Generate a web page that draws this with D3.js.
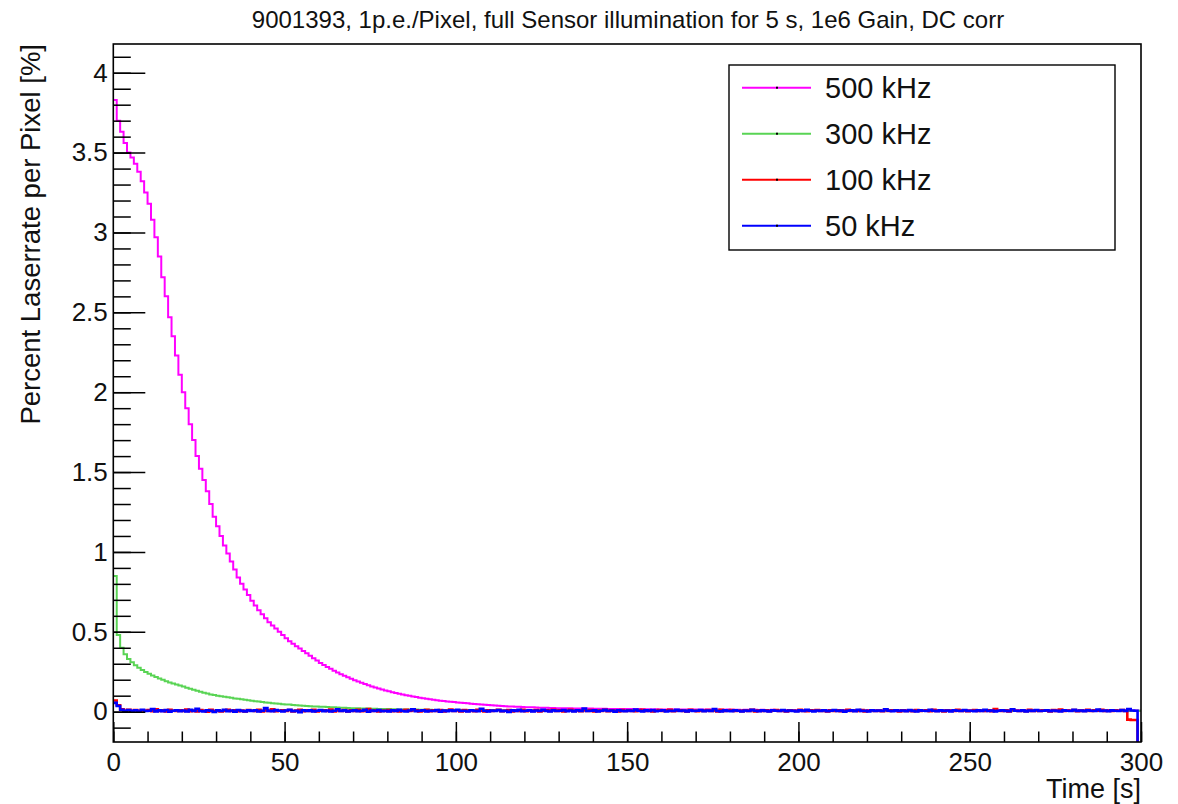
<!DOCTYPE html>
<html>
<head>
<meta charset="utf-8">
<script src="https://cdn.jsdelivr.net/npm/d3@7"></script>
<style>
  html, body { margin: 0; padding: 0; background: #fff; }
  svg { display: block; font-family: "Liberation Sans", Arial, Helvetica, sans-serif; }
</style>
</head>
<body>
<div id="chart"></div>
<script>
// ── Data (1 s bins, t = 0 … 300 s) ───────────────────────────────────────────
const BIN_WIDTH = 1;
const X_DOMAIN = [0, 300];
const Y_DOMAIN = [-0.19, 4.18];
const X_TICKS = [0, 50, 100, 150, 200, 250, 300];
const Y_TICKS = [0, 0.5, 1, 1.5, 2, 2.5, 3, 3.5, 4];
const TITLE = '9001393, 1p.e./Pixel, full Sensor illumination for 5 s, 1e6 Gain, DC corr';
const X_TITLE = 'Time [s]';
const Y_TITLE = 'Percent Laserrate per Pixel [%]';

const LABELS = ['500 kHz', '300 kHz', '100 kHz', '50 kHz'];
const COLORS = ['#ff00ff', '#59d454', '#ff0000', '#0000ff'];

const rate500 = [
  3.83,3.70,3.63,3.56,3.50,3.47,3.43,3.38,3.32,3.25,
  3.18,3.08,2.97,2.85,2.72,2.60,2.47,2.35,2.23,2.11,
  2.00,1.90,1.80,1.70,1.60,1.52,1.45,1.38,1.30,1.22,
  1.16,1.10,1.04,0.99,0.94,0.89,0.84,0.80,0.765,0.73,
  0.695,0.665,0.635,0.61,0.585,0.56,0.54,0.52,0.50,0.48,
  0.46,0.44,0.425,0.41,0.395,0.38,0.365,0.35,0.335,0.32,
  0.305,0.292,0.28,0.268,0.256,0.245,0.234,0.224,0.215,0.206,
  0.197,0.189,0.181,0.173,0.165,0.158,0.151,0.145,0.139,0.133,
  0.127,0.122,0.117,0.112,0.107,0.103,0.099,0.095,0.091,0.087,
  0.084,0.081,0.078,0.075,0.072,0.069,0.066,0.064,0.062,0.060,
  0.058,0.056,0.054,0.052,0.050,0.048,0.046,0.044,0.043,0.041,
  0.040,0.038,0.037,0.035,0.034,0.033,0.032,0.031,0.030,0.029,
  0.028,0.027,0.027,0.026,0.025,0.025,0.024,0.023,0.023,0.022,
  0.022,0.021,0.021,0.021,0.020,0.020,0.020,0.019,0.019,0.019,
  0.018,0.018,0.018,0.018,0.017,0.017,0.017,0.017,0.016,0.016,
  0.016,0.016,0.015,0.016,0.015,0.015,0.015,0.014,0.015,0.014,
  0.014,0.014,0.015,0.014,0.013,0.014,0.013,0.014,0.013,0.013,
  0.013,0.013,0.012,0.013,0.013,0.012,0.013,0.012,0.012,0.013,
  0.012,0.012,0.012,0.011,0.012,0.012,0.011,0.012,0.011,0.012,
  0.011,0.011,0.012,0.011,0.011,0.011,0.010,0.011,0.011,0.011,
  0.011,0.010,0.011,0.010,0.011,0.010,0.010,0.011,0.010,0.010,
  0.010,0.011,0.010,0.010,0.010,0.009,0.010,0.010,0.010,0.009,
  0.010,0.009,0.010,0.010,0.009,0.010,0.009,0.009,0.010,0.009,
  0.009,0.009,0.010,0.009,0.009,0.009,0.008,0.009,0.009,0.009,
  0.009,0.008,0.009,0.009,0.008,0.009,0.008,0.009,0.008,0.008,
  0.008,0.009,0.008,0.008,0.008,0.008,0.009,0.008,0.008,0.008,
  0.008,0.008,0.007,0.008,0.008,0.008,0.007,0.008,0.008,0.007,
  0.008,0.007,0.008,0.007,0.007,0.008,0.007,0.007,0.008,0.007,
  0.007,0.007,0.007,0.008,0.007,0.007,0.007,0.006,0.007,0.007,
  0.007,0.007,0.006,0.007,0.007,0.006,0.007,0.006,0.007,0.006
];

const rate300 = [
  0.85,0.48,0.40,0.36,0.33,0.31,0.29,0.275,0.26,0.248,
  0.237,0.227,0.217,0.208,0.199,0.191,0.183,0.176,0.170,0.163,
  0.157,0.150,0.144,0.137,0.131,0.125,0.119,0.114,0.108,0.104,
  0.100,0.096,0.093,0.090,0.087,0.083,0.080,0.077,0.074,0.071,
  0.068,0.065,0.063,0.060,0.058,0.056,0.053,0.051,0.049,0.047,
  0.045,0.044,0.042,0.040,0.039,0.037,0.036,0.034,0.033,0.032,
  0.031,0.030,0.029,0.028,0.027,0.026,0.025,0.024,0.023,0.022,
  0.022,0.021,0.020,0.020,0.019,0.018,0.018,0.017,0.017,0.016,
  0.016,0.015,0.015,0.014,0.014,0.014,0.013,0.013,0.013,0.012,
  0.012,0.012,0.012,0.011,0.011,0.011,0.011,0.010,0.010,0.010,
  0.010,0.010,0.010,0.009,0.010,0.009,0.009,0.010,0.009,0.009,
  0.009,0.009,0.009,0.009,0.008,0.009,0.009,0.008,0.009,0.008,
  0.008,0.009,0.008,0.008,0.008,0.008,0.008,0.009,0.008,0.008,
  0.008,0.008,0.007,0.008,0.008,0.008,0.007,0.008,0.008,0.007,
  0.008,0.007,0.007,0.008,0.007,0.007,0.008,0.007,0.007,0.007,
  0.007,0.008,0.007,0.007,0.007,0.006,0.007,0.007,0.007,0.007,
  0.007,0.006,0.007,0.007,0.006,0.007,0.007,0.006,0.007,0.006,
  0.007,0.006,0.006,0.007,0.006,0.006,0.007,0.006,0.006,0.006,
  0.006,0.007,0.006,0.006,0.006,0.006,0.005,0.006,0.006,0.006,
  0.006,0.006,0.005,0.006,0.006,0.005,0.006,0.006,0.005,0.006,
  0.005,0.006,0.006,0.005,0.006,0.005,0.006,0.005,0.005,0.006,
  0.005,0.005,0.006,0.005,0.005,0.005,0.006,0.005,0.005,0.005,
  0.005,0.005,0.005,0.006,0.005,0.005,0.004,0.005,0.005,0.005,
  0.005,0.004,0.005,0.005,0.005,0.004,0.005,0.005,0.004,0.005,
  0.005,0.004,0.005,0.004,0.005,0.005,0.004,0.005,0.004,0.004,
  0.005,0.004,0.004,0.005,0.004,0.004,0.005,0.004,0.004,0.004,
  0.004,0.005,0.004,0.004,0.004,0.004,0.005,0.004,0.004,0.004,
  0.004,0.004,0.004,0.005,0.004,0.004,0.004,0.004,0.004,0.004,
  0.004,0.004,0.004,0.004,0.004,0.005,0.004,0.004,0.004,0.004,
  0.004,0.004,0.004,0.004,0.004,0.004,0.004,0.004,0.004,0.006
];

const rate100 = [
  0.070,0.040,0.015,0.006,0.012,0.004,0.010,0.002,0.008,0.006,
  0.010,0.003,0.014,0.005,0.008,0.001,0.012,0.006,0.004,0.009,
  0.005,0.013,0.003,0.007,0.002,0.010,0.006,0.000,0.011,0.004,
  0.008,0.002,0.006,0.012,0.004,0.009,0.003,0.007,0.001,0.010,
  0.006,0.004,0.011,0.002,0.008,0.005,0.014,0.003,0.006,0.009,
  0.004,0.010,0.001,0.007,0.012,0.003,0.008,0.005,0.011,0.002,
  0.006,0.009,0.004,0.013,0.002,0.007,0.005,0.010,0.001,0.008,
  0.005,0.011,0.003,0.006,0.016,0.004,0.009,0.002,0.007,0.005,
  0.010,0.003,0.008,0.001,0.006,0.012,0.004,0.007,0.009,0.002,
  0.006,0.011,0.003,0.008,0.005,0.010,0.002,0.006,0.013,0.004,
  0.007,0.001,0.010,0.005,0.008,0.003,0.011,0.006,0.002,0.009,
  0.004,0.007,0.012,0.003,0.006,0.010,0.001,0.008,0.005,0.011,
  0.003,0.007,0.004,0.010,0.002,0.006,0.009,0.004,0.012,0.005,
  0.008,0.002,0.006,0.011,0.004,0.007,0.003,0.009,0.005,0.010,
  0.002,0.007,0.005,0.012,0.003,0.008,0.006,0.001,0.010,0.004,
  0.009,0.005,0.003,0.007,0.011,0.004,0.008,0.002,0.006,0.010,
  0.004,0.008,0.012,0.003,0.006,0.009,0.005,0.002,0.011,0.006,
  0.003,0.008,0.005,0.010,0.004,0.007,0.002,0.012,0.005,0.007,
  0.010,0.004,0.006,0.003,0.009,0.005,0.011,0.002,0.007,0.005,
  0.008,0.003,0.006,0.010,0.004,0.007,0.002,0.009,0.006,0.004,
  0.011,0.005,0.003,0.008,0.006,0.010,0.004,0.007,0.002,0.009,
  0.005,0.008,0.003,0.006,0.012,0.004,0.007,0.005,0.010,0.002,
  0.006,0.009,0.004,0.007,0.003,0.011,0.005,0.008,0.006,0.002,
  0.009,0.005,0.007,0.003,0.010,0.004,0.006,0.008,0.003,0.011,
  0.005,0.007,0.002,0.009,0.006,0.004,0.012,0.005,0.008,0.003,
  0.006,0.010,0.004,0.007,0.005,0.009,0.003,0.016,0.006,0.004,
  0.008,0.002,0.010,0.006,0.004,0.007,0.003,0.011,0.005,0.008,
  0.004,0.009,0.006,0.002,0.010,0.005,0.013,0.004,0.007,0.006,
  0.010,0.003,0.007,0.005,0.011,0.004,0.008,0.006,0.012,0.005,
  0.007,0.004,0.009,0.006,0.010,0.005,-0.050,-0.052,-0.052,-0.25
];

const rate50 = [
  0.055,0.035,0.012,0.004,0.010,0.002,0.008,0.000,0.012,0.004,
  0.006,0.016,0.002,0.008,0.003,0.010,0.000,0.006,0.009,0.003,
  0.007,0.001,0.011,0.005,0.018,0.004,0.002,0.009,0.006,-0.002,
  0.008,0.004,0.012,0.003,0.007,0.000,0.010,0.005,0.002,0.008,
  0.004,0.009,0.001,0.006,0.022,0.005,0.003,0.010,0.006,0.001,
  0.007,0.012,0.003,0.005,-0.003,0.009,0.004,0.008,0.002,0.006,
  0.010,0.003,0.007,0.001,0.006,0.015,0.004,0.008,0.002,0.005,
  0.009,0.003,0.006,0.012,0.000,0.007,0.004,0.010,0.003,0.006,
  0.002,0.008,0.005,0.011,0.004,0.001,0.007,0.014,0.003,0.006,
  0.009,0.002,0.006,0.004,0.010,0.000,0.007,0.003,0.008,0.005,
  0.012,0.004,0.006,0.001,0.009,0.005,0.003,0.018,0.006,0.002,
  0.007,0.004,0.010,0.003,0.006,-0.002,0.008,0.005,0.011,0.003,
  0.006,0.009,0.002,0.007,0.004,0.012,0.005,0.001,0.008,0.004,
  0.006,0.010,0.003,0.007,0.002,0.009,0.005,0.020,0.004,0.006,
  0.008,0.002,0.006,0.011,0.004,0.007,0.000,0.009,0.005,0.003,
  0.007,0.004,0.013,0.006,0.002,0.008,0.005,0.010,0.003,0.006,
  0.009,0.001,0.006,0.004,0.011,0.005,0.007,0.002,0.008,0.004,
  0.006,0.010,0.003,0.007,0.005,0.016,0.004,0.002,0.008,0.005,
  0.003,0.009,0.006,0.001,0.007,0.004,0.012,0.006,0.003,0.008,
  0.005,0.002,0.009,0.006,0.004,0.010,0.003,0.007,0.005,0.001,
  0.008,0.004,0.011,0.006,0.002,0.007,0.005,0.009,0.003,0.006,
  0.010,0.004,0.007,0.000,0.006,0.008,0.003,0.012,0.005,0.006,
  0.002,0.009,0.005,0.007,0.004,0.014,0.006,0.003,0.008,0.005,
  0.007,0.003,0.010,0.005,0.001,0.008,0.006,0.004,0.011,0.006,
  0.003,0.008,0.005,0.007,0.002,0.009,0.006,0.004,0.010,0.005,
  0.006,0.003,0.008,0.005,0.012,0.004,0.007,0.002,0.006,0.009,
  0.005,0.003,0.015,0.006,0.004,0.008,0.002,0.007,0.005,0.010,
  0.004,0.006,0.009,0.003,0.007,0.005,0.001,0.008,0.006,0.004,
  0.011,0.005,0.007,0.003,0.009,0.006,0.004,0.013,0.005,0.007,
  0.003,0.008,0.006,0.004,0.010,0.005,0.016,0.007,0.006,-0.25
];

const SERIES = [rate500, rate300, rate100, rate50];

// ── Layout ────────────────────────────────────────────────────────────────────
const W = 1178, H = 804;
const plot = { left: 113.3, top: 44, right: 1141, bottom: 742 };
const TICK_FONT = 26;
const AXIS_TITLE_FONT = 27;

const svg = d3.select('#chart').append('svg')
  .attr('width', W)
  .attr('height', H);

const x = d3.scaleLinear().domain(X_DOMAIN).range([plot.left, plot.right]);
const y = d3.scaleLinear().domain(Y_DOMAIN).range([plot.bottom, plot.top]);

svg.append('defs').append('clipPath').attr('id', 'frame-clip')
  .append('rect')
  .attr('x', plot.left).attr('y', plot.top)
  .attr('width', plot.right - plot.left)
  .attr('height', plot.bottom - plot.top);

// ── Histograms (step lines) ──────────────────────────────────────────────────
const line = d3.line()
  .x(d => x(d[0]))
  .y(d => y(d[1]))
  .curve(d3.curveStepAfter);

const curves = svg.append('g').attr('clip-path', 'url(#frame-clip)');
SERIES.forEach((vals, i) => {
  const pts = vals.map((v, k) => [k * BIN_WIDTH, v]);
  pts.push([vals.length * BIN_WIDTH, vals[vals.length - 1]]);
  curves.append('path')
    .datum(pts)
    .attr('d', line)
    .attr('fill', 'none')
    .attr('stroke', COLORS[i])
    .attr('stroke-width', i >= 2 ? 2.6 : 2);
});

// ── Axes ─────────────────────────────────────────────────────────────────────
const xMinor = d3.range(X_DOMAIN[0], X_DOMAIN[1] + 0.001, 10);
const yMinor = d3.range(-0.1, Y_DOMAIN[1], 0.1);

const gx = svg.append('g')
  .attr('transform', `translate(0,${plot.bottom})`)
  .call(d3.axisBottom(x).tickValues(xMinor).tickSizeInner(-10.5).tickSizeOuter(0).tickFormat(''));
gx.append('g')
  .call(d3.axisBottom(x).tickValues(X_TICKS).tickSizeInner(-20).tickSizeOuter(0).tickPadding(10.5).tickFormat(d3.format('d')));

const gy = svg.append('g')
  .attr('transform', `translate(${plot.left},0)`)
  .call(d3.axisLeft(y).tickValues(yMinor).tickSizeInner(-17.5).tickSizeOuter(0).tickFormat(''));
gy.append('g')
  .call(d3.axisLeft(y).tickValues(Y_TICKS).tickSizeInner(-32).tickSizeOuter(0).tickPadding(5.5).tickFormat(d3.format('~g')));

svg.selectAll('.domain').remove();
svg.selectAll('.tick line').attr('stroke', '#000').attr('stroke-width', 1.5);
svg.selectAll('.tick text')
  .attr('fill', '#111')
  .attr('font-size', TICK_FONT)
  .attr('font-family', '"Liberation Sans", Arial, Helvetica, sans-serif');

// frame
svg.append('rect')
  .attr('x', plot.left).attr('y', plot.top)
  .attr('width', plot.right - plot.left)
  .attr('height', plot.bottom - plot.top)
  .attr('fill', 'none')
  .attr('stroke', '#000')
  .attr('stroke-width', 1.6);

// ── Titles ───────────────────────────────────────────────────────────────────
svg.append('text')
  .attr('x', 628).attr('y', 28)
  .attr('text-anchor', 'middle')
  .attr('font-size', 24)
  .attr('fill', '#111')
  .text(TITLE);

svg.append('text')
  .attr('x', plot.right).attr('y', 798)
  .attr('text-anchor', 'end')
  .attr('font-size', AXIS_TITLE_FONT)
  .attr('fill', '#111')
  .text(X_TITLE);

svg.append('text')
  .attr('transform', `translate(40,${plot.top}) rotate(-90)`)
  .attr('text-anchor', 'end')
  .attr('font-size', 27.5)
  .attr('fill', '#111')
  .text(Y_TITLE);

// ── Legend ───────────────────────────────────────────────────────────────────
const legend = svg.append('g');
legend.append('rect')
  .attr('x', 729).attr('y', 65)
  .attr('width', 386).attr('height', 185)
  .attr('fill', '#fff')
  .attr('stroke', '#000')
  .attr('stroke-width', 1.4);

LABELS.forEach((label, i) => {
  const cy = 87.7 + i * 46;
  legend.append('line')
    .attr('x1', 742).attr('x2', 811)
    .attr('y1', cy).attr('y2', cy)
    .attr('stroke', COLORS[i])
    .attr('stroke-width', 2);
  legend.append('rect')
    .attr('x', 776).attr('y', cy - 1)
    .attr('width', 2).attr('height', 2)
    .attr('fill', '#000');
  legend.append('text')
    .attr('x', 825).attr('y', cy)
    .attr('dy', '0.35em')
    .attr('font-size', 29)
    .attr('fill', '#111')
    .text(label);
});
</script>
</body>
</html>
